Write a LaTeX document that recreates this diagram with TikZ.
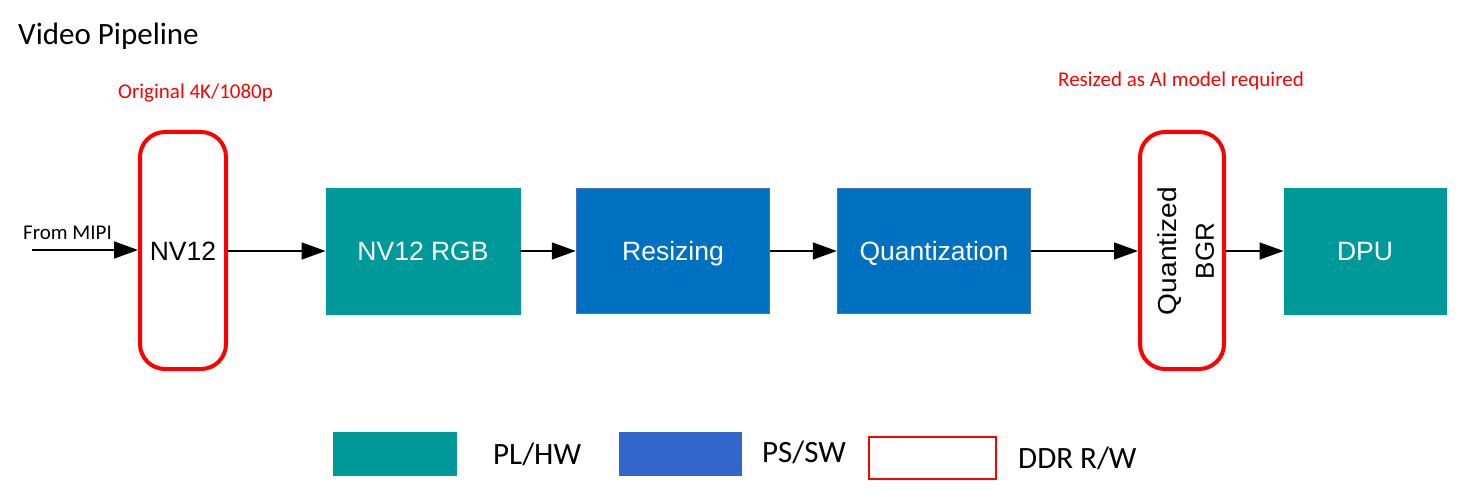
\documentclass[tikz,border=0pt]{standalone}
\usepackage{fontspec}
\newfontfamily\calfont{Carlito}
\newfontfamily\arifont{Liberation Sans}
\usetikzlibrary{arrows.meta}
\definecolor{tealbox}{RGB}{0,153,153}
\definecolor{bluebox}{RGB}{0,112,192}
\definecolor{blueedge}{RGB}{68,114,196}
\definecolor{legblue}{RGB}{51,102,204}
\definecolor{ddrred}{RGB}{255,0,0}
\tikzset{
  hwbox/.style={fill=tealbox, draw=tealbox, line width=0.8pt, inner sep=0pt, text=white,
    font=\arifont\fontsize{26.5}{30}\selectfont, text height=19pt, text depth=0pt},
  swbox/.style={fill=bluebox, draw=blueedge, line width=1.5pt, inner sep=0pt, text=white,
    font=\arifont\fontsize{26.5}{30}\selectfont, text height=19pt, text depth=0pt},
  ddrbox/.style={draw=ddrred, line width=4pt, rounded corners=25pt, inner sep=0pt,
    minimum width=86pt, minimum height=237pt, font=\arifont\fontsize{26.5}{30}\selectfont,
    text height=19pt, text depth=0pt},
  flow/.style={line width=1.5pt, -{Triangle[length=24pt,width=17pt]}},
  redlabel/.style={text=ddrred, font=\calfont\fontsize{21}{25}\selectfont, inner sep=0pt, anchor=base west},
  leglabel/.style={font=\calfont\fontsize{31}{36}\selectfont, inner sep=0pt, anchor=base west},
}
\begin{document}
\begin{tikzpicture}[x=1pt,y=-1pt]
\useasboundingbox (0,0) rectangle (1459,497);
\fill[white] (0,0) rectangle (1459,497);

\node[font=\calfont\fontsize{31}{36}\selectfont, inner sep=0pt, anchor=base west] (title) at (18,45) {Video Pipeline};
\node[redlabel] (orig) at (118,99) {Original 4K/1080p};
\node[redlabel] (resz) at (1058,87) {Resized as AI model required};

\node[ddrbox] (nv12) at (183,250.5) {NV12};
\node[hwbox, minimum width=194pt, minimum height=126pt] (rgb) at (423,251) {NV12 RGB};
\node[swbox, minimum width=193pt, minimum height=125pt] (res) at (673,251) {Resizing};
\node[swbox, minimum width=193pt, minimum height=125pt] (quant) at (934,251) {Quantization};
\node[ddrbox, minimum width=84pt] (qbgr) at (1182,250.5) {};
\node[rotate=90, align=center, font=\arifont\fontsize{26}{37}\selectfont, inner sep=0pt] (qbgrtext) at (1186,251) {\scalebox{1.08}[1]{Quantized}\\BGR};
\node[hwbox, minimum width=162pt, minimum height=126pt] (dpu) at (1365,251) {DPU};

\coordinate (mipi) at (32,250);
\node[font=\calfont\fontsize{21}{25}\selectfont, inner sep=0pt, anchor=base west] (mipilabel) at (23,240) {From MIPI};

\draw[flow] (mipi) -- (nv12.west |- mipi);
\draw[flow] (nv12.east |- rgb.west) -- (rgb.west);
\draw[flow] (rgb.east) -- (res.west);
\draw[flow] (res.east) -- (quant.west);
\draw[flow] (quant.east) -- (qbgr.west |- quant.east);
\draw[flow] (qbgr.east |- dpu.west) -- (dpu.west);

% legend
\node[fill=tealbox, inner sep=0pt, minimum width=124pt, minimum height=44pt] (leghw) at (395,454) {};
\node[leglabel] (leghwt) at (493,464) {PL/HW};
\node[fill=legblue, inner sep=0pt, minimum width=123pt, minimum height=44pt] (legsw) at (680.5,454) {};
\node[leglabel] (legswt) at (762,462) {PS/SW};
\node[draw=ddrred, line width=2.5pt, inner sep=0pt, minimum width=127pt, minimum height=42pt] (legddr) at (932.5,458) {};
\node[leglabel] (legddrt) at (1018,468) {DDR R/W};
\end{tikzpicture}
\end{document}
